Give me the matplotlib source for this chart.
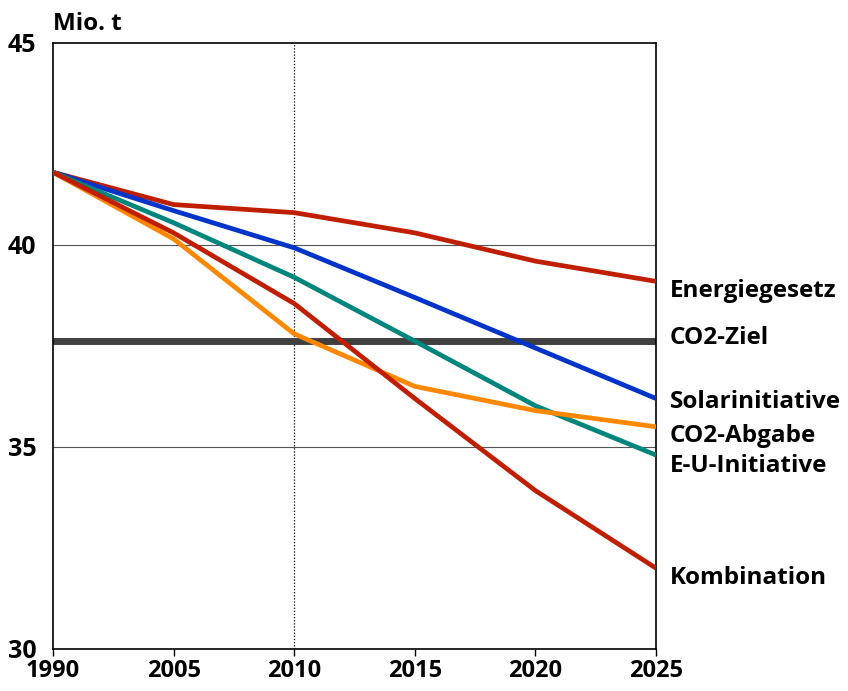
import matplotlib
matplotlib.use("Agg")
import matplotlib.pyplot as plt

years = ["1990", "2005", "2010", "2015", "2020", "2025"]
energiegesetz = [41.8, 41.0, 40.8, 40.3, 39.6, 39.1]
solarinitiative = [41.8, 40.85, 39.93, 38.7, 37.45, 36.2]
eu_initiative = [41.8, 40.55, 39.2, 37.62, 36.02, 34.8]
co2_abgabe = [41.8, 40.15, 37.8, 36.5, 35.9, 35.5]
kombination = [41.8, 40.3, 38.55, 36.2, 33.92, 32.0]
co2_ziel = 37.62
y_ticks = [30, 35, 40, 45]
unit_label = "Mio. t"

plt.rcParams['font.family'] = ['Open Sans', 'DejaVu Sans']

fig = plt.figure(figsize=(8.48, 6.91), dpi=100)
ax = fig.add_axes([0.0625, 0.0608, 0.7111, 0.877])

x = list(range(len(years)))

ax.axhline(co2_ziel, color="#404040", lw=5.0, zorder=2)
ax.plot(x, energiegesetz, color="#BF1E00", lw=3.4, zorder=3, solid_capstyle="butt")
ax.plot(x, solarinitiative, color="#0033C8", lw=3.4, zorder=3, solid_capstyle="butt")
ax.plot(x, eu_initiative, color="#00857D", lw=3.4, zorder=3, solid_capstyle="butt")
ax.plot(x, co2_abgabe, color="#FF8800", lw=3.4, zorder=3, solid_capstyle="butt")
ax.plot(x, kombination, color="#BF1E00", lw=3.4, zorder=4, solid_capstyle="butt")

ax.axvline(2, color="black", lw=0.9, ls=(0, (1, 1.5)), zorder=1)

ax.set_xlim(0, len(years) - 1)
ax.set_ylim(30, 45)
ax.set_yticks(y_ticks)
ax.set_yticklabels([str(v) for v in y_ticks], fontsize=18, fontweight="bold")
ax.set_xticks(x)
ax.set_xticklabels(years, fontsize=17, fontweight="bold")
ax.tick_params(axis="y", length=0, pad=12)
ax.tick_params(axis="x", length=5, width=1, direction="out", pad=2)
for v in [35, 40]:
    ax.axhline(v, color="#555555", lw=0.8, zorder=0)
for s in ax.spines.values():
    s.set_linewidth(1.2)
    s.set_color("black")

ax.text(0, 1.012, unit_label, transform=ax.transAxes, fontsize=17.5, fontweight="bold",
        ha="left", va="bottom")

labels = ["Energiegesetz", "CO2-Ziel", "Solarinitiative", "CO2-Abgabe", "E-U-Initiative", "Kombination"]
label_y = [38.86, 37.70, 36.11, 35.27, 34.53, 31.76]
for lab, yy in zip(labels, label_y):
    ax.annotate(lab, xy=(1, yy), xycoords=("axes fraction", "data"),
                xytext=(10, 0), textcoords="offset points", fontsize=17.5,
                fontweight="bold", ha="left", va="center", annotation_clip=False)

fig.savefig("out.png", dpi=100)
